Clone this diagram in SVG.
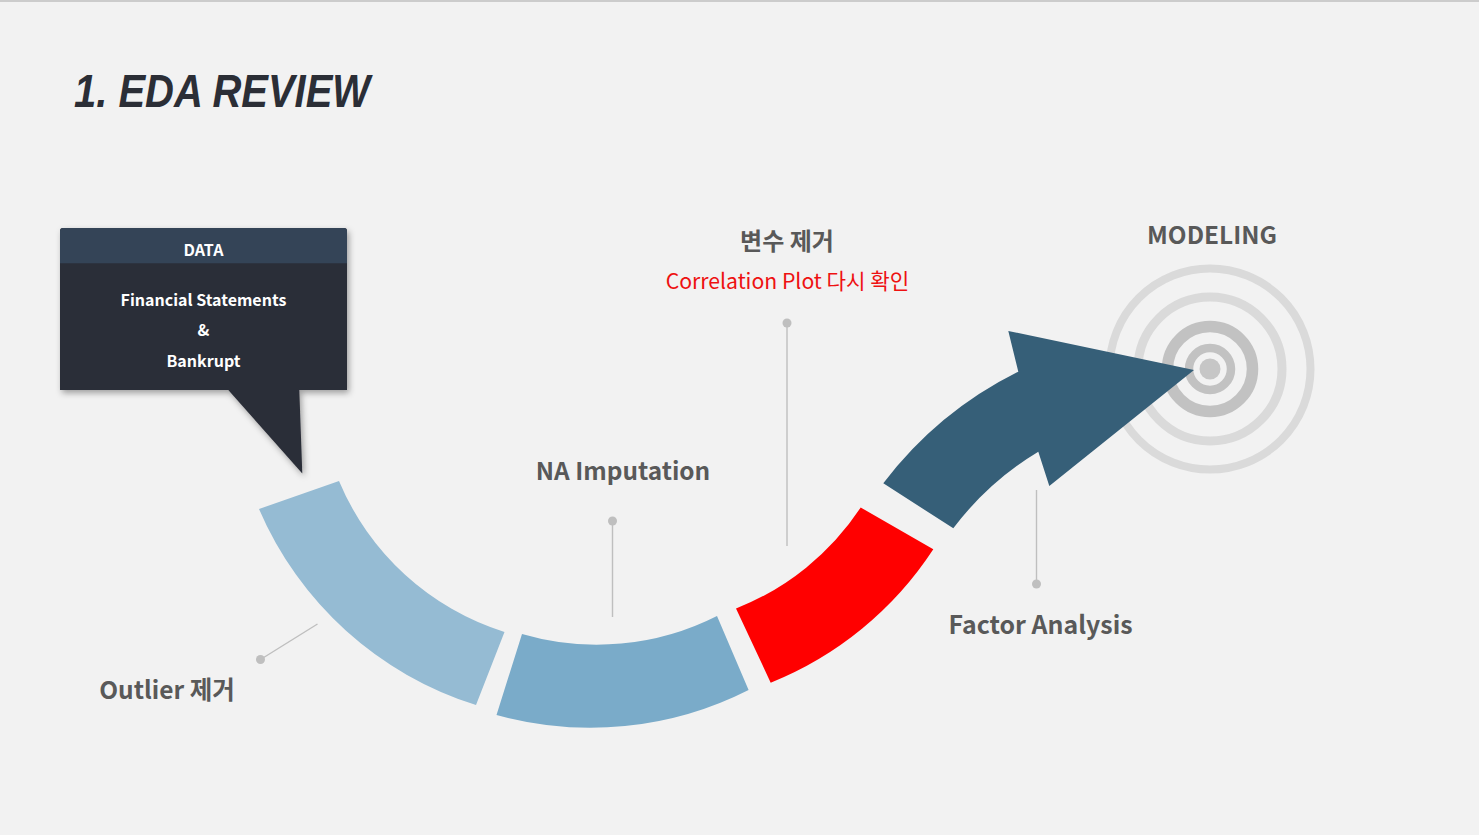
<svg xmlns="http://www.w3.org/2000/svg" width="1479" height="835" viewBox="0 0 1479 835">
<defs>
<style>
.lbl{font-family:"Noto Sans CJK KR","Noto Sans",sans-serif;font-weight:bold;fill:#595959;text-anchor:middle}
.box{font-family:"Noto Sans CJK KR","Noto Sans",sans-serif;font-weight:bold;fill:#ffffff;text-anchor:middle;font-size:16px}
.lead{stroke:#bfbfbf;stroke-width:1.4;fill:none}
.dot{fill:#bfbfbf}
.ringL{fill:none;stroke:#dadada}
.ringD{fill:none;stroke:#c2c2c2}
</style>
<filter id="sh" x="-10%" y="-10%" width="130%" height="140%">
<feDropShadow dx="2" dy="3" stdDeviation="3" flood-color="#000" flood-opacity="0.35"/>
</filter>
</defs>
<rect width="1479" height="835" fill="#f2f2f2"/>
<line x1="0" y1="1" x2="1479" y2="1" stroke="#cccccc" stroke-width="2"/>
<g id="title">
<text x="74" y="107" font-family="Liberation Sans, sans-serif" font-weight="bold" font-style="italic" font-size="46.5" fill="#2b2e36" textLength="296" lengthAdjust="spacingAndGlyphs">1. EDA REVIEW</text>
</g>
<g id="target">
<circle class="ringL" cx="1210" cy="369" r="100.5" stroke-width="8"/>
<circle class="ringL" cx="1210" cy="369" r="72" stroke-width="9"/>
<circle class="ringD" cx="1210" cy="369" r="42.5" stroke-width="11.5"/>
<circle class="ringD" cx="1210" cy="369" r="21" stroke-width="8.5"/>
<circle cx="1210" cy="369" r="10.5" fill="#c6c6c6"/>
</g>
<g id="connectors">
<line class="lead" x1="787" y1="323" x2="787" y2="546"/>
<circle class="dot" cx="787" cy="323" r="4.5"/>
<line class="lead" x1="612.5" y1="521" x2="612.5" y2="617"/>
<circle class="dot" cx="612.5" cy="521" r="4.5"/>
<line class="lead" x1="1036.5" y1="490" x2="1036.5" y2="584"/>
<circle class="dot" cx="1036.5" cy="584" r="4.5"/>
<line class="lead" x1="260.5" y1="659.5" x2="317.5" y2="624"/>
<circle class="dot" cx="260.5" cy="659.5" r="4.5"/>
</g>
<g id="seg-outlier">
<path d="M259,509 A350,350 0 0 0 476,705 L504.5,632 A266,266 0 0 1 339,481 Z" fill="#95bbd3"/>
</g>
<g id="seg-na">
<path d="M496.5,715 A350,350 0 0 0 748.6,690 L717,616 A266,266 0 0 1 522,634 Z" fill="#7aabc9"/>
</g>
<g id="seg-var">
<path d="M736,608.5 A266,266 0 0 0 860.7,507.5 L933.3,549.3 A350,350 0 0 1 770.7,682.7 Z" fill="#ff0000"/>
</g>
<g id="arrow-factor">
<path d="M1194,370 L1008.3,331 L1018.3,371.7 A385,385 0 0 0 883.3,483.3 L953.3,528.3 A300,300 0 0 1 1038.3,451.7 L1049.3,486 Z" fill="#365f78"/>
</g>
<g id="data-box">
<path d="M63,228 H344 Q347,228 347,231 V390 H299.3 L302.3,473.5 L228.3,390 H60 V231 Q60,228 63,228 Z" fill="#2b2e38" filter="url(#sh)"/>
<path d="M63,228 H344 Q347,228 347,231 V263.3 H60 V231 Q60,228 63,228 Z" fill="#344457"/>
<text class="box" x="203.5" y="255.5">DATA</text>
<text class="box" x="203.5" y="306">Financial Statements</text>
<text class="box" x="203.5" y="336">&amp;</text>
<text class="box" x="203.5" y="366.5">Bankrupt</text>
</g>
<g id="label-modeling"><text class="lbl" x="1212" y="243.5" font-size="24.4">MODELING</text></g>
<g id="label-var">
<text class="lbl" x="787" y="250" font-size="24">변수 제거</text>
<text x="787.5" y="288.5" font-family="Noto Sans CJK KR, Noto Sans, sans-serif" font-size="21.2" fill="#ee1111" text-anchor="middle">Correlation Plot 다시 확인</text>
</g>
<g id="label-na"><text class="lbl" x="623" y="480" font-size="24.4">NA Imputation</text></g>
<g id="label-factor"><text class="lbl" x="1040.5" y="634" font-size="24.9">Factor Analysis</text></g>
<g id="label-outlier"><text class="lbl" x="167" y="698.5" font-size="24.5">Outlier 제거</text></g>
</svg>
